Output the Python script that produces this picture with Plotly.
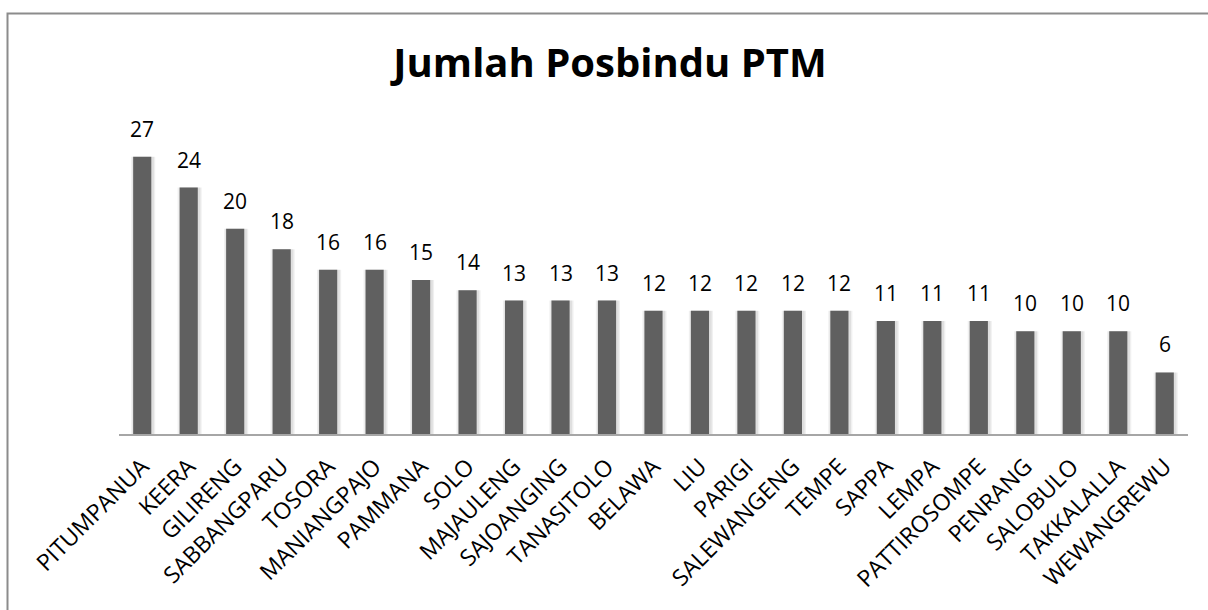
import plotly.graph_objects as go

categories = ["PITUMPANUA", "KEERA", "GILIRENG", "SABBANGPARU", "TOSORA", "MANIANGPAJO",
              "PAMMANA", "SOLO", "MAJAULENG", "SAJOANGING", "TANASITOLO", "BELAWA", "LIU",
              "PARIGI", "SALEWANGENG", "TEMPE", "SAPPA", "LEMPA", "PATTIROSOMPE", "PENRANG",
              "SALOBULO", "TAKKALALLA", "WEWANGREWU"]
values = [27, 24, 20, 18, 16, 16, 15, 14, 13, 13, 13, 12, 12, 12, 12, 12, 11, 11, 11, 10, 10, 10, 6]
title_text = "Jumlah Posbindu PTM"

FONT = "'Open Sans', sans-serif"

fig = go.Figure()
# soft shadow
fig.add_trace(go.Bar(x=categories, y=values, width=0.52, marker_color="rgba(0,0,0,0.06)",
                     marker_line_width=0, hoverinfo="skip", offset=-0.24))
fig.add_trace(go.Bar(x=categories, y=values, width=0.46, marker_color="rgba(0,0,0,0.07)",
                     marker_line_width=0, hoverinfo="skip", offset=-0.21))
fig.add_trace(go.Bar(x=categories, y=values, width=0.39, marker_color="#606060",
                     marker_line_width=0, offset=-0.195))

for c, v in zip(categories, values):
    fig.add_annotation(x=c, y=v, text=str(v), showarrow=False, yanchor="middle", yshift=28,
                       font=dict(family=FONT, size=21, color="#000000"))

fig.update_layout(
    width=1208, height=610,
    margin=dict(l=119, r=20, t=126, b=176, autoexpand=False),
    paper_bgcolor="white", plot_bgcolor="white",
    barmode="overlay", showlegend=False,
    title=dict(text=f"<b>{title_text}</b>", x=0.505, xanchor="center", y=0.897, yanchor="middle",
               font=dict(family=FONT, size=40, color="#000000")),
    xaxis=dict(range=[-0.5, 22.5], tickangle=-45, showgrid=False, ticks="",
               automargin=False, ticklabelstandoff=8,
               showline=True, linecolor="#a6a6a6", linewidth=2,
               tickfont=dict(family=FONT, size=23, color="#000000")),
    yaxis=dict(range=[0, 30], visible=False, showgrid=False, zeroline=False, automargin=False),
    shapes=[dict(type="rect", xref="paper", yref="paper",
                 x0=-0.1043, x1=1.2, y0=-0.7, y1=1.365,
                 line=dict(color="#8c8c8c", width=2), fillcolor="rgba(0,0,0,0)", layer="below")],
)

fig.write_html("out.html", config={"displayModeBar": False},
               post_script="document.body.style.margin='0';document.body.style.overflow='hidden';")
